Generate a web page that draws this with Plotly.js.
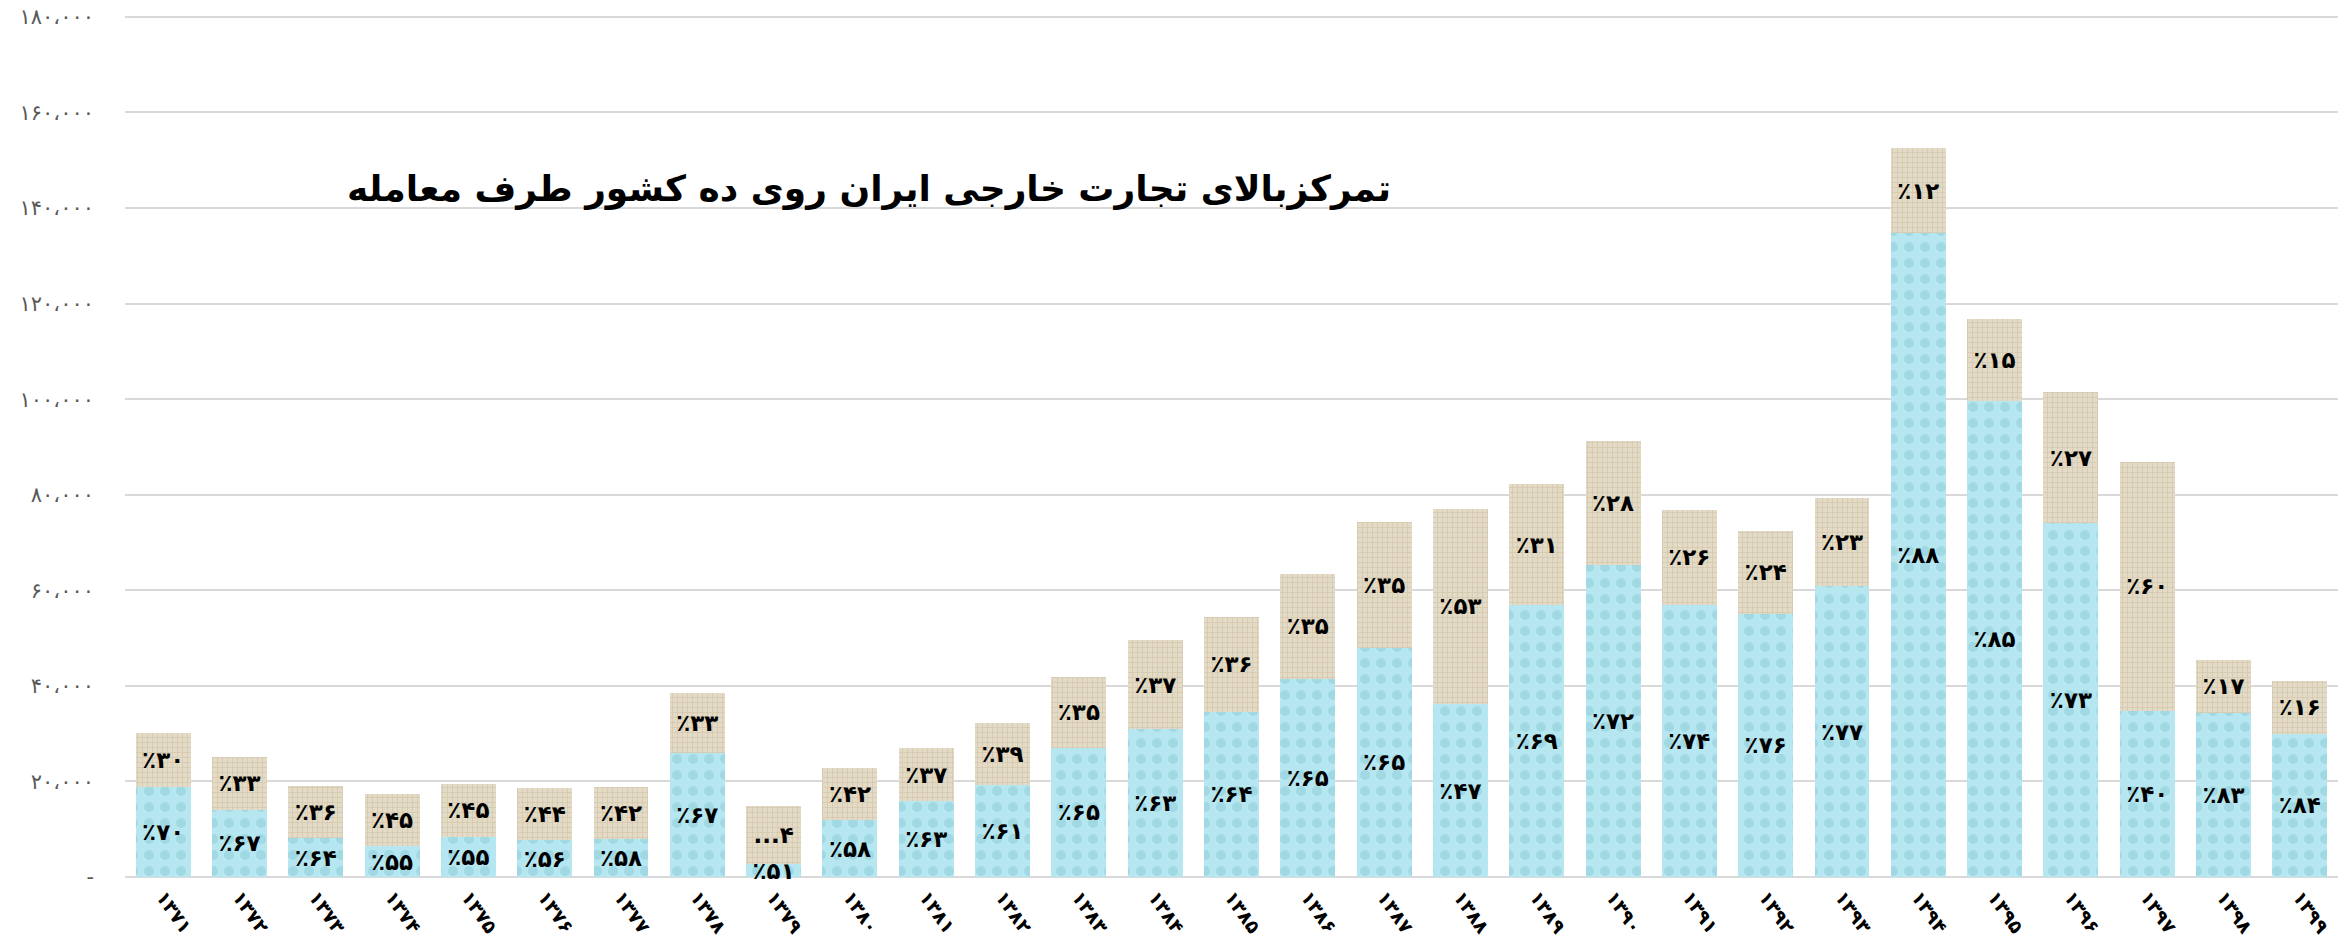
<!DOCTYPE html>
<html>
<head>
<meta charset="utf-8">
<script src="https://cdn.plot.ly/plotly-3.0.1.min.js"></script>
<style>
html,body{margin:0;padding:0;background:#fff;}
#chart{width:2351px;height:947px;}
</style>
</head>
<body>
<div id="chart"></div>
<script>
// Years (Persian digits)
const years = ["۱۳۷۱","۱۳۷۲","۱۳۷۳","۱۳۷۴","۱۳۷۵","۱۳۷۶","۱۳۷۷","۱۳۷۸","۱۳۷۹","۱۳۸۰",
  "۱۳۸۱","۱۳۸۲","۱۳۸۳","۱۳۸۴","۱۳۸۵","۱۳۸۶","۱۳۸۷","۱۳۸۸","۱۳۸۹","۱۳۹۰",
  "۱۳۹۱","۱۳۹۲","۱۳۹۳","۱۳۹۴","۱۳۹۵","۱۳۹۶","۱۳۹۷","۱۳۹۸","۱۳۹۹"];

// Total foreign trade (bar height)
const totalTrade = [30070,25070,19100,17360,19440,18610,18820,38570,14860,22780,
  26940,32200,41800,49500,54400,63500,74200,77100,82200,91200,
  76900,72500,79300,152600,116800,101400,86900,45400,41000];

// Trade with top-ten partner countries (lower segment)
const topTenTrade = [18800,14100,8060,6390,8470,7640,7920,25900,2640,11880,
  15830,19300,27100,31000,34600,41500,48000,36200,56900,65300,
  56900,55100,60900,134700,99600,74100,34800,34400,30000];

// Percent labels
const topTenPct = ["۷۰","۶۷","۶۴","۵۵","۵۵","۵۶","۵۸","۶۷","۵۱","۵۸",
  "۶۳","۶۱","۶۵","۶۳","۶۴","۶۵","۶۵","۴۷","۶۹","۷۲",
  "۷۴","۷۶","۷۷","۸۸","۸۵","۷۳","۴۰","۸۳","۸۴"];
const otherPct = ["۳۰","۳۳","۳۶","۴۵","۴۵","۴۴","۴۲","۳۳","...۴","۴۲",
  "۳۷","۳۹","۳۵","۳۷","۳۶","۳۵","۳۵","۵۳","۳۱","۲۸",
  "۲۶","۲۴","۲۳","۱۲","۱۵","۲۷","۶۰","۱۷","۱۶"];

// Y axis ticks
const yTickVals = [0,20000,40000,60000,80000,100000,120000,140000,160000,180000];
const yTickText = ["-","۲۰،۰۰۰","۴۰،۰۰۰","۶۰،۰۰۰","۸۰،۰۰۰","۱۰۰،۰۰۰","۱۲۰،۰۰۰","۱۴۰،۰۰۰","۱۶۰،۰۰۰","۱۸۰،۰۰۰"];

const titleText = "تمرکزبالای تجارت خارجی ایران روی ده کشور طرف معامله";

const otherTrade = totalTrade.map((t,i)=> t - topTenTrade[i]);
const pctText = arr => arr.map(s => s.startsWith("...") ? "<b>"+s+"</b>" : "<b>٪"+s+"</b>");

const labelFont = {family:"DejaVu Sans", size:23, color:"#000"};

const traceBlue = {
  type:"bar", x:years, y:topTenTrade,
  text:pctText(topTenPct), textposition:"inside", insidetextanchor:"middle",
  textangle:0, constraintext:"none", textfont:labelFont, cliponaxis:false,
  marker:{color:"#b4e6f0", line:{width:0},
    pattern:{shape:".", bgcolor:"#b6e7f1", fgcolor:"#a0d8e4", size:16, solidity:0.3, fillmode:"replace"}},
  hoverinfo:"x+y"
};
const traceBurlap = {
  type:"bar", x:years, y:otherTrade,
  text:pctText(otherPct), textposition:"inside", insidetextanchor:"middle",
  textangle:0, constraintext:"none", textfont:labelFont, cliponaxis:false,
  marker:{color:"#e2d8c3", line:{width:0},
    pattern:{shape:"+", bgcolor:"#e4dbc7", fgcolor:"#d2c6ab", size:5, solidity:0.25, fillmode:"replace"}},
  hoverinfo:"x+y"
};

const layout = {
  width:2351, height:947,
  margin:{l:125, r:13, t:15, b:70},
  paper_bgcolor:"#fff", plot_bgcolor:"#fff",
  barmode:"stack", bargap:0.28, showlegend:false,
  xaxis:{type:"category", tickangle:55, showgrid:false, showline:false, ticks:"",
    ticklabelstandoff:4,
    tickfont:{family:"DejaVu Sans", size:19, color:"#000", weight:"bold"}},
  yaxis:{range:[0,180400], tickvals:yTickVals, ticktext:yTickText,
    showgrid:true, gridcolor:"#d9d9d9", gridwidth:2,
    zeroline:true, zerolinecolor:"#d9d9d9", zerolinewidth:2,
    showline:false, ticks:"", ticklabelstandoff:30,
    tickfont:{family:"DejaVu Sans", size:21, color:"#595959"}},
  annotations:[{
    xref:"paper", yref:"paper", x:0.336, y:0.798, xanchor:"center", yanchor:"middle",
    text:titleText, showarrow:false,
    font:{family:"DejaVu Sans", size:36, color:"#000", weight:"bold"}
  }]
};

Plotly.newPlot("chart",[traceBlue, traceBurlap],layout,{displayModeBar:false, staticPlot:true});
</script>
</body>
</html>
